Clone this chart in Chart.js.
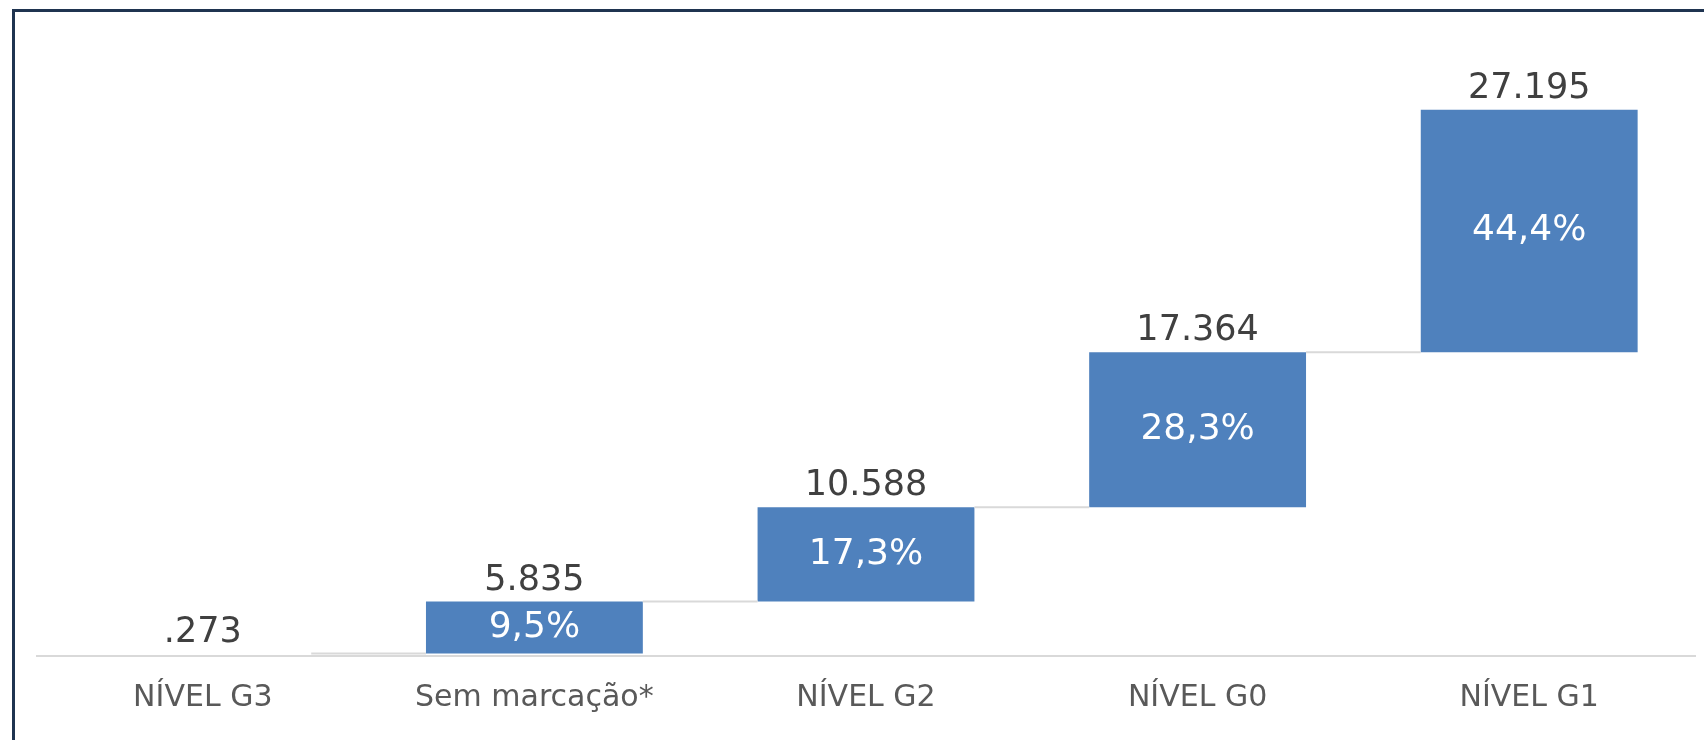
<!DOCTYPE html>
<html>
<head>
<meta charset="utf-8">
<script src="https://cdn.jsdelivr.net/npm/chart.js@4/dist/chart.umd.min.js"></script>
<style>
    html, body { margin: 0; padding: 0; background: #fff; }
    #wrap { position: relative; width: 1704px; height: 740px; }
    #frame {
        position: absolute; left: 12px; top: 9px; right: -10px; bottom: -10px;
        border-left: 3px solid #1f3450; border-top: 3px solid #1f3450;
    }
    canvas { position: absolute; left: 0; top: 0; }
</style>
</head>
<body>
<div id="wrap">
    <div id="frame"></div>
    <canvas id="chart-1" width="1704" height="740"></canvas>
</div>
<script>
// Dados do gráfico (cascata)
const categorias = ['NÍVEL G3', 'Sem marcação*', 'NÍVEL G2', 'NÍVEL G0', 'NÍVEL G1'];
const valores = [273, 5835, 10588, 17364, 27195];
const rotulosValor = ['.273', '5.835', '10.588', '17.364', '27.195'];
const rotulosPct = ['', '9,5%', '17,3%', '28,3%', '44,4%'];

// barras flutuantes: [início, fim] acumulados
let acumulado = 0;
const barras = valores.map(v => {
    const b = [acumulado, acumulado + v];
    acumulado += v;
    return b;
});

const azul = "rgba(79, 129, 189, 1)";
const cores = valores.map((v, i) => i === 0 ? "rgba(0, 0, 0, 0)" : azul);

// linhas de ligação + rótulos
const rotulosPlugin = {
    id: 'rotulos',
    afterDatasetsDraw(chart) {
        const ctx = chart.ctx;
        const els = chart.getDatasetMeta(0).data;

        ctx.save();
        ctx.strokeStyle = '#d9d9d9';
        ctx.lineWidth = 2;
        for (let i = 0; i < els.length - 1; i++) {
            const a = els[i], b = els[i + 1];
            ctx.beginPath();
            ctx.moveTo(a.x + a.width / 2, a.y);
            ctx.lineTo(b.x - b.width / 2, a.y);
            ctx.stroke();
        }

        ctx.textAlign = 'center';
        ctx.textBaseline = 'middle';
        els.forEach((el, i) => {
            ctx.font = '35px "DejaVu Sans"';
            ctx.fillStyle = '#404040';
            ctx.fillText(rotulosValor[i], el.x, el.y - 21);
            if (rotulosPct[i]) {
                ctx.font = '36px "DejaVu Sans"';
                ctx.fillStyle = '#ffffff';
                ctx.fillText(rotulosPct[i], el.x, (el.y + el.base) / 2);
            }
        });
        ctx.restore();
    }
};

const ctx1 = document.getElementById("chart-1").getContext("2d");
const myChart1 = new Chart(ctx1, {
    type: 'bar',
    data: {
        labels: categorias,
        datasets: [{
            data: barras,
            backgroundColor: cores,
            borderWidth: 0,
            barPercentage: 0.654,
            categoryPercentage: 1
        }]
    },
    options: {
        responsive: false,
        animation: false,
        layout: { padding: { left: 37, right: 9, top: 80, bottom: 0 } },
        plugins: {
            legend: { display: false },
            tooltip: { enabled: false }
        },
        scales: {
            x: {
                grid: { display: false },
                border: { display: true, color: '#d9d9d9', width: 2 },
                afterFit: (scale) => { scale.height = 84; },
                ticks: {
                    color: '#595959',
                    padding: 16,
                    maxRotation: 0,
                    font: { family: 'DejaVu Sans', size: 30 }
                }
            },
            y: {
                display: false,
                min: 0,
                max: 64600
            }
        }
    },
    plugins: [rotulosPlugin]
});
</script>
</body>
</html>
